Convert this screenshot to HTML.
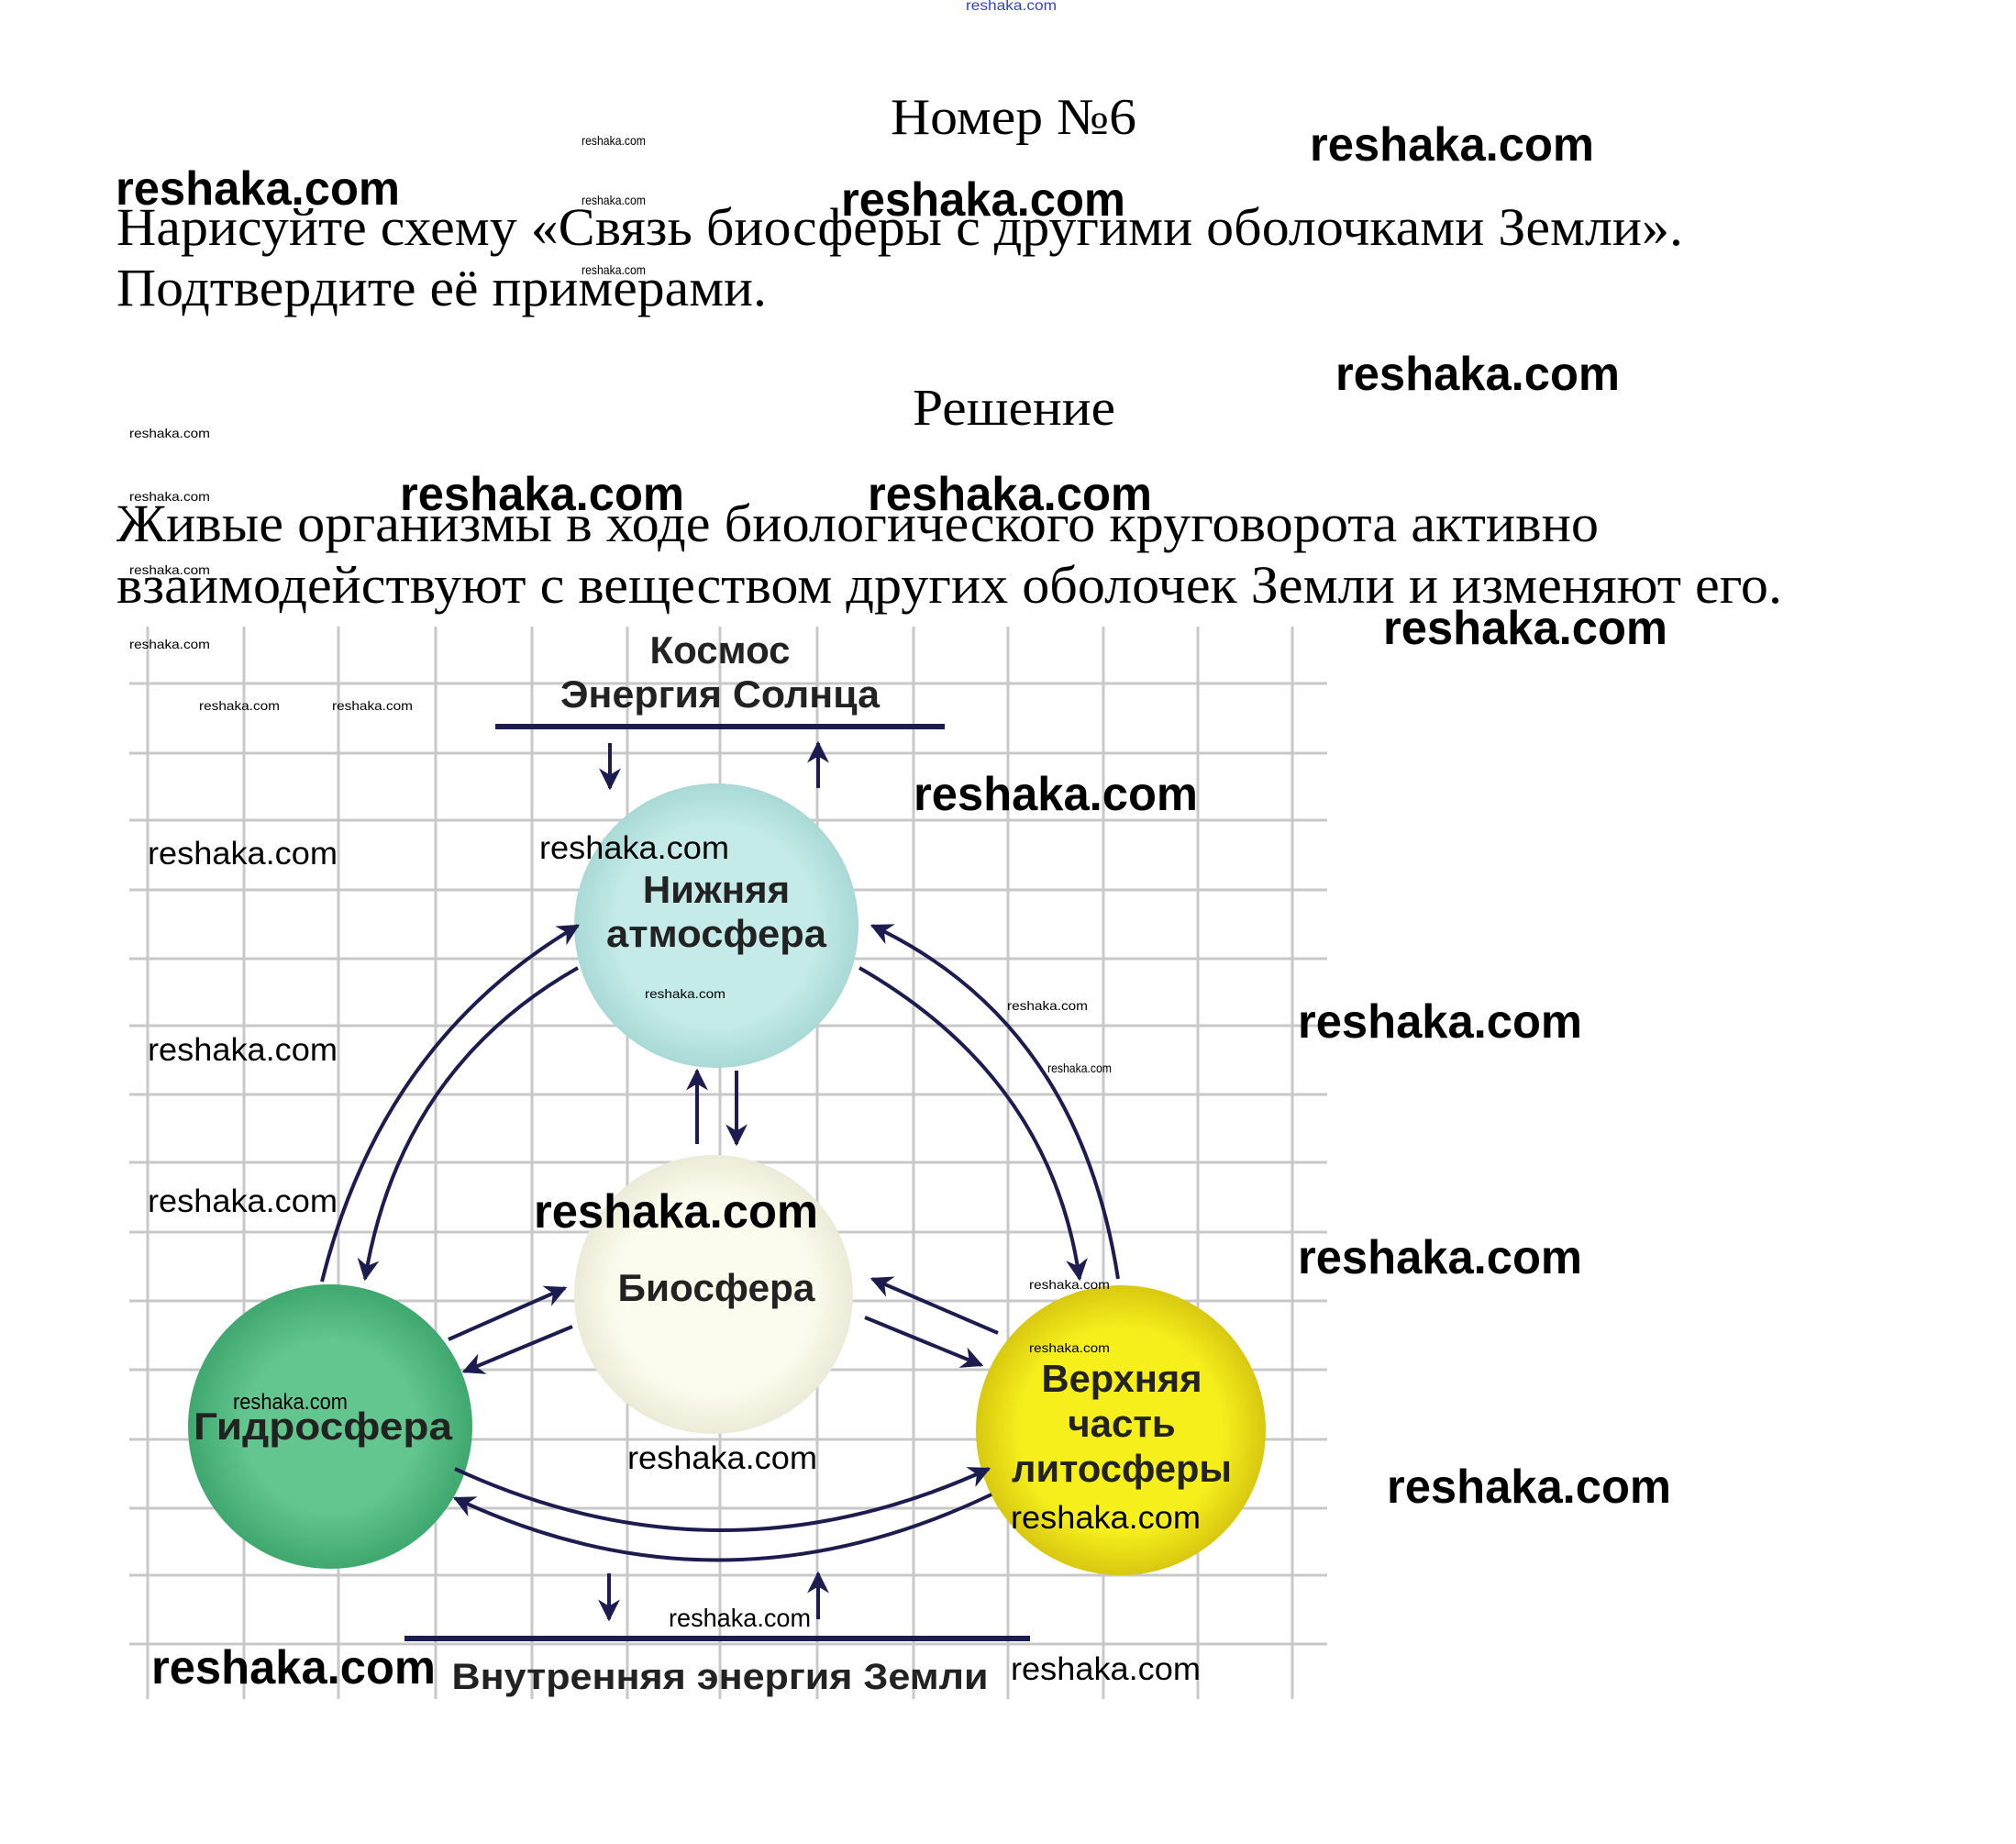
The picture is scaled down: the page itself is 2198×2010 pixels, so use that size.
<!DOCTYPE html>
<html><head><meta charset="utf-8"><style>
html,body{margin:0;padding:0;background:#fff;}
svg{display:block}
.s{font-family:"Liberation Serif",serif;fill:#000}
.w{font-family:"Liberation Sans",sans-serif;fill:#000}
.d{font-family:"Liberation Sans",sans-serif;font-weight:bold;fill:#222;text-anchor:middle}
</style></head><body>
<svg width="2198" height="2010" viewBox="0 0 2198 2010" xmlns="http://www.w3.org/2000/svg">
<defs>
<marker id="a" viewBox="0 0 10 10" refX="9" refY="5" markerWidth="6" markerHeight="6" orient="auto-start-reverse" markerUnits="strokeWidth">
<path d="M0,0 L10,5 L0,10 L3,5 z" fill="#1c1c50"/></marker>
<radialGradient id="gA"><stop offset="0.7" stop-color="#c4ebe8"/><stop offset="1" stop-color="#a9d9d6"/></radialGradient>
<radialGradient id="gB"><stop offset="0.7" stop-color="#fcfcee"/><stop offset="1" stop-color="#ecebd8"/></radialGradient>
<radialGradient id="gH"><stop offset="0.6" stop-color="#62c68e"/><stop offset="1" stop-color="#3fa86e"/></radialGradient>
<radialGradient id="gL"><stop offset="0.7" stop-color="#f6ef1c"/><stop offset="1" stop-color="#d8c810"/></radialGradient>
</defs>
<g transform="translate(-4,-5)">
<!-- grid -->
<g stroke="#c8c8c8" stroke-width="3">
<line x1="165" y1="688" x2="165" y2="1857"/><line x1="270" y1="688" x2="270" y2="1857"/><line x1="373" y1="688" x2="373" y2="1857"/><line x1="479" y1="688" x2="479" y2="1857"/><line x1="584" y1="688" x2="584" y2="1857"/><line x1="688" y1="688" x2="688" y2="1857"/><line x1="789" y1="688" x2="789" y2="1857"/><line x1="895" y1="688" x2="895" y2="1857"/><line x1="1000" y1="688" x2="1000" y2="1857"/><line x1="1103" y1="688" x2="1103" y2="1857"/><line x1="1207" y1="688" x2="1207" y2="1857"/><line x1="1310" y1="688" x2="1310" y2="1857"/><line x1="1413" y1="688" x2="1413" y2="1857"/>
<line x1="145" y1="750" x2="1451" y2="750"/><line x1="145" y1="826" x2="1451" y2="826"/><line x1="145" y1="899" x2="1451" y2="899"/><line x1="145" y1="975" x2="1451" y2="975"/><line x1="145" y1="1050" x2="1451" y2="1050"/><line x1="145" y1="1123" x2="1451" y2="1123"/><line x1="145" y1="1198" x2="1451" y2="1198"/><line x1="145" y1="1272" x2="1451" y2="1272"/><line x1="145" y1="1348" x2="1451" y2="1348"/><line x1="145" y1="1423" x2="1451" y2="1423"/><line x1="145" y1="1498" x2="1451" y2="1498"/><line x1="145" y1="1574" x2="1451" y2="1574"/><line x1="145" y1="1649" x2="1451" y2="1649"/><line x1="145" y1="1722" x2="1451" y2="1722"/><line x1="145" y1="1797" x2="1451" y2="1797"/>
</g>

<circle cx="785" cy="1014" r="155" fill="url(#gA)"/>
<circle cx="782" cy="1416" r="152" fill="url(#gB)"/>
<circle cx="364" cy="1560" r="155" fill="url(#gH)"/>
<circle cx="1226" cy="1564" r="158" fill="url(#gL)"/>

<line x1="544" y1="797" x2="1034" y2="797" stroke="#1c1c50" stroke-width="6"/>
<line x1="445" y1="1791" x2="1127" y2="1791" stroke="#1c1c50" stroke-width="6"/>

<g stroke="#1c1c50" stroke-width="4" fill="none" marker-end="url(#a)">
<line x1="669" y1="815" x2="669" y2="864"/>
<line x1="896" y1="864" x2="896" y2="815"/>
<line x1="668" y1="1720" x2="668" y2="1770"/>
<line x1="896" y1="1770" x2="896" y2="1720"/>
<line x1="764" y1="1252" x2="764" y2="1172"/>
<line x1="807" y1="1172" x2="807" y2="1252"/>
<path d="M355,1402 Q420,1140 634,1014"/>
<path d="M634,1060 Q440,1170 402,1399"/>
<path d="M1223,1399 Q1180,1120 955,1014"/>
<path d="M941,1060 Q1150,1180 1181,1399"/>
<path d="M500,1606 Q790,1740 1082,1606"/>
<path d="M1085,1634 Q790,1775 500,1638"/>
<line x1="493" y1="1465" x2="620" y2="1409"/>
<line x1="628" y1="1451" x2="510" y2="1500"/>
<line x1="1092" y1="1458" x2="955" y2="1399"/>
<line x1="947" y1="1441" x2="1074" y2="1493"/>
</g>

<text class="d" x="789" y="728" font-size="42">Космос</text>
<text class="d" x="789" y="776" font-size="42" textLength="348" lengthAdjust="spacingAndGlyphs">Энергия Солнца</text>
<text class="d" x="785" y="989" font-size="42">Нижняя</text>
<text class="d" x="785" y="1037" font-size="42" textLength="240" lengthAdjust="spacingAndGlyphs">атмосфера</text>
<text class="d" x="785" y="1423" font-size="42" textLength="215" lengthAdjust="spacingAndGlyphs">Биосфера</text>
<text class="d" x="356" y="1574" font-size="42" textLength="282" lengthAdjust="spacingAndGlyphs">Гидросфера</text>
<text class="d" x="1227" y="1522" font-size="42" textLength="175" lengthAdjust="spacingAndGlyphs">Верхняя</text>
<text class="d" x="1227" y="1571" font-size="42">часть</text>
<text class="d" x="1227" y="1620" font-size="42" textLength="240" lengthAdjust="spacingAndGlyphs">литосферы</text>
<text class="d" x="789" y="1846" font-size="40" textLength="585" lengthAdjust="spacingAndGlyphs">Внутренняя энергия Земли</text>

<text class="s" x="975" y="151" font-size="56" textLength="268" lengthAdjust="spacingAndGlyphs">Номер №6</text>
<text class="s" x="131" y="272" font-size="58" textLength="1708" lengthAdjust="spacingAndGlyphs">Нарисуйте схему «Связь биосферы с другими оболочками Земли».</text>
<text class="s" x="131" y="338" font-size="58" textLength="709" lengthAdjust="spacingAndGlyphs">Подтвердите её примерами.</text>
<text class="s" x="999" y="468" font-size="56" textLength="221" lengthAdjust="spacingAndGlyphs">Решение</text>
<text class="s" x="131" y="595" font-size="58" textLength="1616" lengthAdjust="spacingAndGlyphs">Живые организмы в ходе биологического круговорота активно</text>
<text class="s" x="131" y="662" font-size="58" textLength="1816" lengthAdjust="spacingAndGlyphs">взаимодействуют с веществом других оболочек Земли и изменяют его.</text>

<text x="1057" y="16" font-size="16" fill="#3344cc" font-family="Liberation Sans,sans-serif" textLength="99" lengthAdjust="spacingAndGlyphs">reshaka.com</text>
<g class="w" font-size="52" font-weight="bold">
<text x="1432" y="180" textLength="310" lengthAdjust="spacingAndGlyphs">reshaka.com</text>
<text x="130" y="228" textLength="310" lengthAdjust="spacingAndGlyphs">reshaka.com</text>
<text x="921" y="240" textLength="310" lengthAdjust="spacingAndGlyphs">reshaka.com</text>
<text x="1460" y="430" textLength="310" lengthAdjust="spacingAndGlyphs">reshaka.com</text>
<text x="440" y="561" textLength="310" lengthAdjust="spacingAndGlyphs">reshaka.com</text>
<text x="950" y="561" textLength="310" lengthAdjust="spacingAndGlyphs">reshaka.com</text>
<text x="1512" y="707" textLength="310" lengthAdjust="spacingAndGlyphs">reshaka.com</text>
<text x="1000" y="888" textLength="310" lengthAdjust="spacingAndGlyphs">reshaka.com</text>
<text x="1419" y="1136" textLength="310" lengthAdjust="spacingAndGlyphs">reshaka.com</text>
<text x="1419" y="1393" textLength="310" lengthAdjust="spacingAndGlyphs">reshaka.com</text>
<text x="1516" y="1643" textLength="310" lengthAdjust="spacingAndGlyphs">reshaka.com</text>
<text x="586" y="1343" textLength="310" lengthAdjust="spacingAndGlyphs">reshaka.com</text>
<text x="169" y="1840" textLength="310" lengthAdjust="spacingAndGlyphs">reshaka.com</text>
</g>
<g class="w" font-size="35">
<text x="165" y="947" textLength="207" lengthAdjust="spacingAndGlyphs">reshaka.com</text>
<text x="165" y="1161" textLength="207" lengthAdjust="spacingAndGlyphs">reshaka.com</text>
<text x="165" y="1326" textLength="207" lengthAdjust="spacingAndGlyphs">reshaka.com</text>
<text x="592" y="941" textLength="207" lengthAdjust="spacingAndGlyphs">reshaka.com</text>
<text x="688" y="1606" textLength="207" lengthAdjust="spacingAndGlyphs">reshaka.com</text>
<text x="1106" y="1671" textLength="207" lengthAdjust="spacingAndGlyphs">reshaka.com</text>
<text x="1106" y="1836" textLength="207" lengthAdjust="spacingAndGlyphs">reshaka.com</text>
</g>
<text class="w" x="258" y="1541" font-size="24" textLength="125" lengthAdjust="spacingAndGlyphs">reshaka.com</text>
<text class="w" x="733" y="1778" font-size="28" textLength="155" lengthAdjust="spacingAndGlyphs">reshaka.com</text>
<g class="w" font-size="14">
<text x="638" y="163" textLength="70" lengthAdjust="spacingAndGlyphs">reshaka.com</text>
<text x="638" y="228" textLength="70" lengthAdjust="spacingAndGlyphs">reshaka.com</text>
<text x="638" y="304" textLength="70" lengthAdjust="spacingAndGlyphs">reshaka.com</text>
<text x="145" y="482" textLength="88" lengthAdjust="spacingAndGlyphs">reshaka.com</text>
<text x="145" y="551" textLength="88" lengthAdjust="spacingAndGlyphs">reshaka.com</text>
<text x="145" y="631" textLength="88" lengthAdjust="spacingAndGlyphs">reshaka.com</text>
<text x="145" y="712" textLength="88" lengthAdjust="spacingAndGlyphs">reshaka.com</text>
<text x="221" y="779" textLength="88" lengthAdjust="spacingAndGlyphs">reshaka.com</text>
<text x="366" y="779" textLength="88" lengthAdjust="spacingAndGlyphs">reshaka.com</text>
<text x="707" y="1093" textLength="88" lengthAdjust="spacingAndGlyphs">reshaka.com</text>
<text x="1102" y="1106" textLength="88" lengthAdjust="spacingAndGlyphs">reshaka.com</text>
<text x="1146" y="1174" textLength="70" lengthAdjust="spacingAndGlyphs">reshaka.com</text>
<text x="1126" y="1410" textLength="88" lengthAdjust="spacingAndGlyphs">reshaka.com</text>
<text x="1126" y="1479" textLength="88" lengthAdjust="spacingAndGlyphs">reshaka.com</text>
</g>
</g>
</svg>
</body></html>
